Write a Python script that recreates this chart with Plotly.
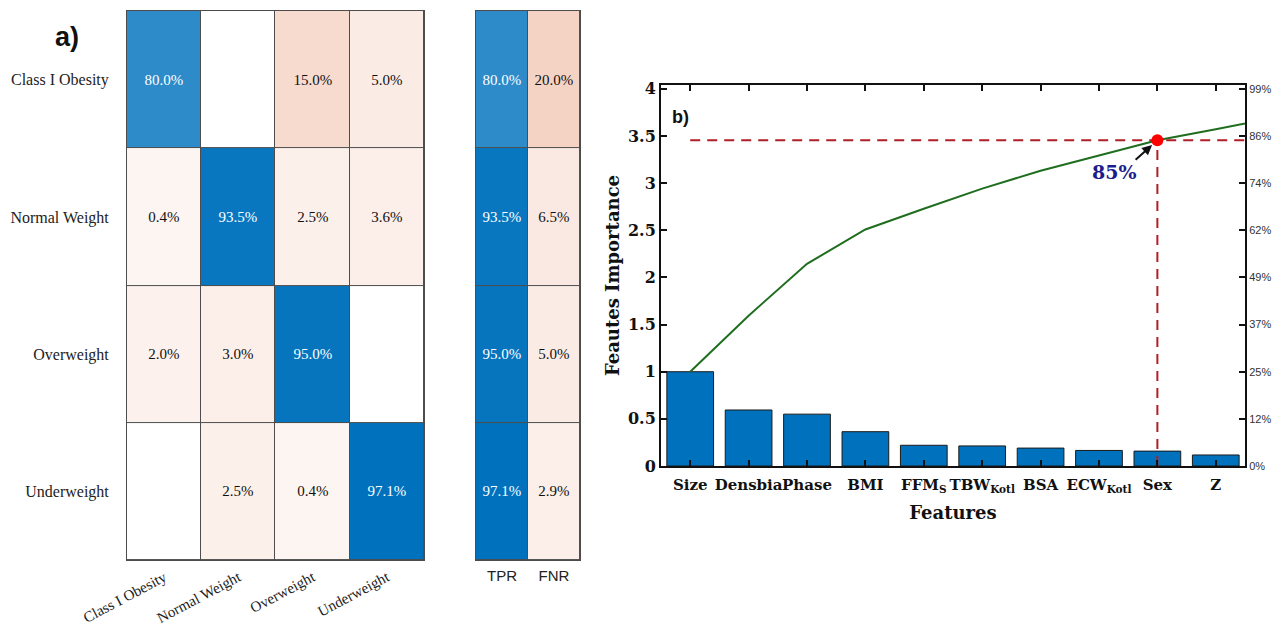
import plotly.graph_objects as go

# ---- a) confusion matrix (row-normalised, %) ----
classes = ["Class I Obesity", "Normal Weight", "Overweight", "Underweight"]
conf_pct = [
    [80.0, 0.0, 15.0, 5.0],
    [0.4, 93.5, 2.5, 3.6],
    [2.0, 3.0, 95.0, 0.0],
    [0.0, 2.5, 0.4, 97.1],
]
rate_labels = ["TPR", "FNR"]
tpr = [80.0, 93.5, 95.0, 97.1]
fnr = [20.0, 6.5, 5.0, 2.9]

# ---- b) feature importance pareto ----
features = ["Size", "Densbia", "Phase", "BMI", "FFM<sub>S</sub>", "TBW<sub>Kotl</sub>",
            "BSA", "ECW<sub>Kotl</sub>", "Sex", "Z"]
importance = [1.0, 0.594, 0.55, 0.364, 0.22, 0.213, 0.19, 0.165, 0.158, 0.117]
importance_next = [0.12]          # next-ranked feature, beyond the visible axis
left_ticks = [0, 0.5, 1, 1.5, 2, 2.5, 3, 3.5, 4]
left_ticktext = ["0", "0.5", "1", "1.5", "2", "2.5", "3", "3.5", "4"]
pct_ticktext = ["0%", "12%", "25%", "37%", "49%", "62%", "74%", "86%", "99%"]
highlight_feature = "Sex"
highlight_text = "85%"

BLUE = "#0072BD"
GRID = "#4d4d4d"
off_scale = [[0, "#ffffff"], [0.003, "#fdf5f1"], [0.05, "#fbebe5"],
             [0.2, "#f5d3c4"], [1, "#d95319"]]
diag_scale = [[0, "#ffffff"], [1, BLUE]]
diag_max = max(max(tpr), max(conf_pct[i][i] for i in range(len(classes))))


def fmt(v):
    return "" if v is None or v == 0 else f"{v:.1f}%"


n = len(classes)
z_diag = [[conf_pct[i][j] if i == j else None for j in range(n)] for i in range(n)]
z_off = [[None if i == j else conf_pct[i][j] for j in range(n)] for i in range(n)]
z_tpr = [[t, None] for t in tpr]
z_fnr = [[None, f] for f in fnr]

cell_font = dict(family="Liberation Serif, Times New Roman, serif", size=15)
fig = go.Figure()


def add_matrix(xcats, zoff, zdiag, xa, ya):
    # dark underlay shows through the cell gaps as grid lines
    fig.add_trace(go.Heatmap(x=xcats, y=classes, z=[[1] * len(xcats) for _ in classes],
                             colorscale=[[0, GRID], [1, GRID]], showscale=False,
                             hoverinfo="skip", xaxis=xa, yaxis=ya))
    fig.add_trace(go.Heatmap(x=xcats, y=classes, z=zoff, zmin=0, zmax=100,
                             colorscale=off_scale, showscale=False, xgap=1, ygap=1,
                             text=[[fmt(v) for v in row] for row in zoff],
                             texttemplate="%{text}", textfont=dict(cell_font, color="#111111"),
                             hoverinfo="skip", xaxis=xa, yaxis=ya))
    fig.add_trace(go.Heatmap(x=xcats, y=classes, z=zdiag, zmin=0, zmax=diag_max,
                             colorscale=diag_scale, showscale=False, xgap=1, ygap=1,
                             text=[[fmt(v) for v in row] for row in zdiag],
                             texttemplate="%{text}", textfont=dict(cell_font, color="#ffffff"),
                             hoverinfo="skip", xaxis=xa, yaxis=ya))


add_matrix(classes, z_off, z_diag, "x", "y")
add_matrix(rate_labels, z_fnr, z_tpr, "x2", "y2")

# ---- pareto ----
idx = list(range(len(features)))
cum = []
s = 0.0
for v in importance + importance_next:
    s += v
    cum.append(s)
hi = features.index(highlight_feature)
DASH = "#b01f27"

fig.add_trace(go.Bar(x=idx, y=importance, width=0.8, marker=dict(color=BLUE, line=dict(color="#1a1a1a", width=1)),
                     xaxis="x3", yaxis="y3", hoverinfo="skip"))
fig.add_trace(go.Scatter(x=list(range(len(cum))), y=cum, mode="lines", line=dict(color="#1f6e1f", width=2),
                         xaxis="x3", yaxis="y3", hoverinfo="skip"))
fig.add_trace(go.Scatter(x=[0, len(features)], y=[cum[hi], cum[hi]], mode="lines",
                         line=dict(color=DASH, width=2, dash="10px,7px"), xaxis="x3", yaxis="y3", hoverinfo="skip"))
fig.add_trace(go.Scatter(x=[hi, hi], y=[0, cum[hi]], mode="lines",
                         line=dict(color=DASH, width=2, dash="10px,7px"), xaxis="x3", yaxis="y3", hoverinfo="skip"))
fig.add_trace(go.Scatter(x=[hi], y=[cum[hi]], mode="markers", marker=dict(color="#ff0000", size=12),
                         xaxis="x3", yaxis="y3", hoverinfo="skip", cliponaxis=False))
# invisible trace to activate the right-hand percentage axis
fig.add_trace(go.Scatter(x=[0], y=[0], mode="markers", marker=dict(opacity=0), xaxis="x3", yaxis="y4",
                         hoverinfo="skip"))

YR = [0, 4.04]
xtick_font = dict(family="DejaVu Serif", size=15, color="#111111", weight="bold")
ytick_font = dict(family="DejaVu Serif", size=16, color="#111111", weight="bold")
title_font = dict(family="DejaVu Serif", size=18, color="#111111", weight="bold")

fig.update_layout(
    width=1284, height=633, margin=dict(l=0, r=0, t=0, b=0),
    paper_bgcolor="white", plot_bgcolor="white", showlegend=False,
    xaxis=dict(domain=[0.0989, 0.3302], anchor="y", tickangle=-28, showgrid=False, zeroline=False,
               showline=True, mirror=True, linecolor=GRID, linewidth=1, ticks="", automargin=False,
               ticklabelstandoff=2,
               tickfont=dict(family="Liberation Serif", size=15, color="#222222")),
    yaxis=dict(domain=[0.1153, 0.9826], anchor="x", autorange="reversed", showgrid=False, zeroline=False,
               showline=True, mirror=True, linecolor=GRID, linewidth=1, ticks="", ticklabelstandoff=14,
               automargin=False, tickfont=dict(family="Liberation Serif", size=16, color="#222222")),
    xaxis2=dict(domain=[0.3707, 0.4517], anchor="y2", showgrid=False, zeroline=False, tickangle=0,
                showline=True, mirror=True, linecolor=GRID, linewidth=1, ticks="", automargin=False,
                ticklabelstandoff=2,
                tickfont=dict(family="Liberation Sans", size=15, color="#222222")),
    yaxis2=dict(domain=[0.1153, 0.9826], anchor="x2", autorange="reversed", showgrid=False, zeroline=False,
                showline=True, mirror=True, linecolor=GRID, linewidth=1, showticklabels=False, ticks="",
                automargin=False),
    xaxis3=dict(domain=[0.5148, 0.9696], anchor="y3", range=[-0.5, len(features) - 0.5],
                tickvals=idx, ticktext=features, tickangle=0, showgrid=False, zeroline=False,
                showline=True, mirror="ticks", linecolor="#111111", linewidth=2, automargin=False,
                ticks="inside", ticklen=6, tickwidth=1.5, tickcolor="#111111", tickfont=xtick_font,
                ticklabelstandoff=4,
                title=dict(text="Features", font=title_font, standoff=12)),
    yaxis3=dict(domain=[0.2638, 0.8657], anchor="x3", range=YR, tickvals=left_ticks, ticktext=left_ticktext,
                showgrid=False, zeroline=False, showline=True, mirror=True, linecolor="#111111", linewidth=2,
                ticks="inside", ticklen=6, tickwidth=1.5, tickcolor="#111111", tickfont=ytick_font,
                automargin=False,
                title=dict(text="Feautes Importance", font=title_font, standoff=4)),
    yaxis4=dict(overlaying="y3", side="right", anchor="x3", range=YR, tickvals=left_ticks, ticktext=pct_ticktext,
                showgrid=False, zeroline=False, showline=True, linecolor="#111111", linewidth=2,
                ticks="inside", ticklen=6, tickwidth=1.5, tickcolor="#111111", automargin=False,
                tickfont=dict(family="Liberation Sans", size=11, color="#333333")),
    annotations=[
        dict(text="<b>a)</b>", xref="paper", yref="paper", x=67 / 1284, y=1 - 37 / 633,
             xanchor="center", yanchor="middle", showarrow=False,
             font=dict(family="Liberation Sans", size=27, color="#111111")),
        dict(text="<b>b)</b>", xref="x3", yref="y3", x=-0.35, y=3.7, xanchor="left", showarrow=False,
             font=dict(family="Liberation Sans", size=18, color="#111111")),
        dict(text="", xref="x3", yref="y3", x=hi - 0.09, y=cum[hi] - 0.05, ax=-18, ay=16,
             showarrow=True, arrowhead=2, arrowsize=1, arrowwidth=2, arrowcolor="#111111", standoff=0),
        dict(text=f"<b>{highlight_text}</b>", xref="x3", yref="y3", x=hi - 0.74, y=cum[hi] - 0.34,
             showarrow=False, font=dict(family="DejaVu Serif", size=19, color="#1c1c8c")),
    ],
)

fig.write_html("out.html")
